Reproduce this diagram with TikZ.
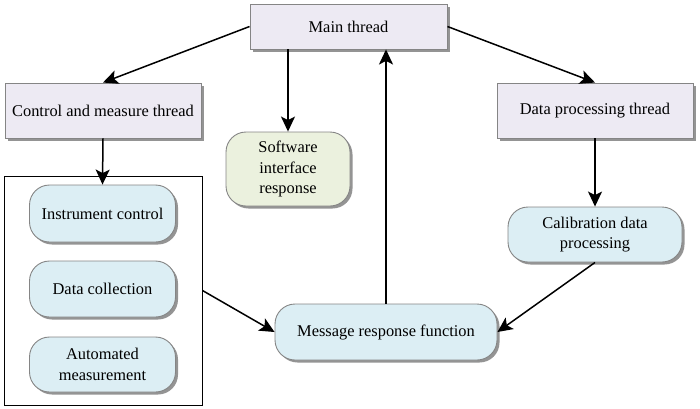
\documentclass[tikz,border=0pt]{standalone}
\usepackage{fontspec}
\setmainfont{Liberation Serif}
\usetikzlibrary{arrows.meta,shadows}
\definecolor{lav}{HTML}{EDEAF3}
\definecolor{lblue}{HTML}{DCEEF4}
\definecolor{lgreen}{HTML}{EBF1DE}
\definecolor{bord}{HTML}{858585}
\tikzset{
  base/.style={draw=bord, line width=0.9pt, align=center, inner sep=2pt,
    font=\rmfamily\fontsize{16.4}{20.5}\selectfont,
    drop shadow={shadow xshift=2.5pt, shadow yshift=-2.5pt, fill=black!60, opacity=0.7}},
  thread/.style={base, rectangle, fill=lav},
  func/.style={base, rounded corners=20pt, fill=lblue},
  funcg/.style={base, rounded corners=20pt, fill=lgreen},
  arr/.style={line width=1.5pt, -{Stealth[length=15pt,width=14pt,inset=3.5pt]}},
}
\begin{document}
\begin{tikzpicture}[x=1pt,y=-1pt]
\useasboundingbox (0,0) rectangle (700,408);
\node[thread, minimum width=197pt, minimum height=45pt] (main) at (348.5,26.5) {Main thread};
\node[thread, minimum width=196pt, minimum height=55pt] (ctrl) at (103,110.5) {Control and measure thread};
\node[thread, minimum width=196pt, minimum height=55pt] (dp) at (595,110.5) {Data processing thread};
\node[funcg, minimum width=124pt, minimum height=74pt] (soft) at (288,169) {Software\\interface\\response};
\node[draw=black, line width=1pt, minimum width=198pt, minimum height=229pt] (outer) at (103,290.5) {};
\node[func, minimum width=146pt, minimum height=57pt] (inst) at (102.5,213.5) {Instrument control};
\node[func, minimum width=146pt, minimum height=56pt] (coll) at (102.5,289) {Data collection};
\node[func, minimum width=146pt, minimum height=55pt] (auto) at (102.5,364.5) {Automated\\measurement};
\node[func, minimum width=222pt, minimum height=56pt] (msg) at (386,332) {Message response function};
\node[func, minimum width=174pt, minimum height=55pt] (cal) at (595,234.5) {Calibration data\\processing};
\draw[arr] (main.west) -- (ctrl.north);
\draw[arr] (main.east) -- (dp.north);
\draw[arr] (main.south -| soft.north) -- (soft.north);
\draw[arr] (msg.north) -- (msg.north |- main.south);
\draw[arr] (ctrl.south) -- (inst.north);
\draw[arr] (dp.south) -- (cal.north);
\draw[arr] (cal.south) -- (msg.east);
\draw[arr] (outer.east) -- (msg.west);
\end{tikzpicture}
\end{document}
